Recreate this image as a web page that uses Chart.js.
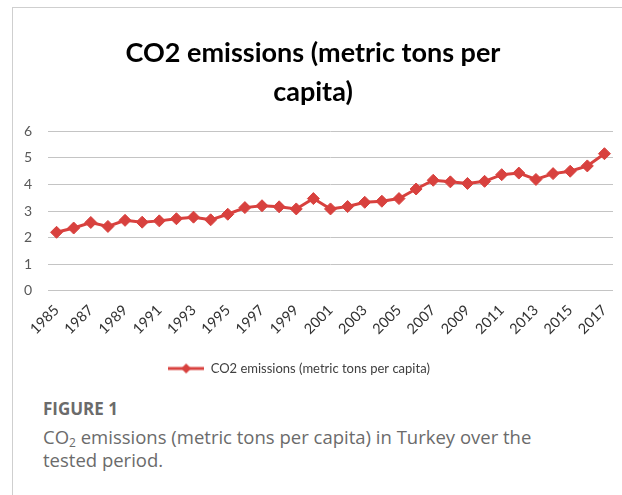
<!DOCTYPE html>
<html>
<head>
<meta charset="utf-8">
<script src="https://cdn.jsdelivr.net/npm/chart.js@4"></script>
<style>
  html, body { margin: 0; padding: 0; background: #fff; }
  body { width: 622px; height: 495px; position: relative; overflow: hidden; }
  #frame {
    position: absolute; left: 12px; top: 7px; right: -2px; bottom: -2px;
    border-left: 1px solid #cfcfcf; border-top: 1px solid #cfcfcf;
  }
  #chartBox { position: absolute; left: 13px; top: 8px; width: 609px; height: 382px; }
  #caption { position: absolute; left: 43px; top: 397px; font-family: "Open Sans", sans-serif; color: #6b6b6b; }
  #caption .fig { font-weight: 700; font-size: 17px; line-height: 24px; }
  #caption .txt { font-size: 18.5px; line-height: 23px; margin-top: 4px; }
</style>
</head>
<body>
<div id="frame"></div>
<div id="chartBox"><canvas id="co2Chart"></canvas></div>
<div id="caption">
  <div class="fig">FIGURE 1</div>
  <div class="txt">CO<sub style="font-size:12px;vertical-align:-3px;line-height:0">2</sub> emissions (metric tons per capita) in Turkey over the<br>tested period.</div>
</div>
<script>
// data
const years = [
  '1985', '1986', '1987', '1988', '1989', '1990', '1991', '1992', '1993', '1994', '1995',
  '1996', '1997', '1998', '1999', '2000', '2001', '2002', '2003', '2004', '2005', '2006',
  '2007', '2008', '2009', '2010', '2011', '2012', '2013', '2014', '2015', '2016', '2017'
];
const co2PerCapita = [
  2.20, 2.36, 2.57, 2.42, 2.65, 2.58, 2.63, 2.71, 2.77, 2.67, 2.88,
  3.13, 3.20, 3.16, 3.08, 3.47, 3.08, 3.17, 3.33, 3.37, 3.47, 3.83,
  4.16, 4.10, 4.04, 4.12, 4.37, 4.43, 4.19, 4.41, 4.50, 4.70, 5.16
];
const yTicks = [0, 1, 2, 3, 4, 5, 6];
const seriesName = 'CO2 emissions (metric tons per capita)';
const chartTitle = ['CO2 emissions (metric tons per', 'capita)'];

const red = '#D8413E';

// legend icon: line with a diamond in the middle
function legendIcon()
{
    const c = document.createElement('canvas');
    c.width = 36;
    c.height = 14;
    const g = c.getContext('2d');
    g.strokeStyle = red;
    g.lineWidth = 3;
    g.beginPath();
    g.moveTo(0, 7);
    g.lineTo(36, 7);
    g.stroke();
    g.fillStyle = red;
    g.beginPath();
    g.moveTo(18, 2);
    g.lineTo(23, 7);
    g.lineTo(18, 12);
    g.lineTo(13, 7);
    g.closePath();
    g.fill();
    return c;
}

// the legend in the original sits a little left of centre
const legendNudge = {
    id: 'legendNudge',
    afterLayout(chart) {
        if (chart.legend) {
            chart.legend.left -= 14;
            chart.legend.right -= 14;
        }
    }
};

new Chart(document.getElementById('co2Chart'), {
    type: 'line',
    data: {
        labels: years,
        datasets: [{
            label: seriesName,
            data: co2PerCapita,
            borderColor: red,
            backgroundColor: red,
            borderWidth: 3,
            tension: 0,
            pointStyle: 'rectRot',
            pointRadius: 6,
            pointBorderWidth: 1,
            pointBackgroundColor: red,
            pointBorderColor: red
        }]
    },
    options: {
        responsive: true,
        maintainAspectRatio: false,
        animation: false,
        layout: { padding: { left: 0, right: 9, top: 0, bottom: 5 } },
        scales: {
            x: {
                offset: true,
                grid: { display: false },
                border: { display: false },
                ticks: {
                    autoSkip: false,
                    minRotation: 45,
                    maxRotation: 45,
                    padding: 3,
                    color: '#333',
                    font: { family: 'Lato', size: 14.5 },
                    callback: function (value, index) {
                        return index % 2 === 0 ? years[index] : '';
                    }
                },
                afterFit: function (scale) { scale.height = 61.3; }
            },
            y: {
                min: yTicks[0],
                max: yTicks[yTicks.length - 1],
                grid: { color: '#c4c4c4', lineWidth: 1, drawTicks: false },
                border: { display: false },
                afterBuildTicks: function (scale) {
                    scale.ticks = yTicks.map(v => ({ value: v }));
                },
                ticks: {
                    padding: 16,
                    color: '#595959',
                    font: { family: 'Lato', size: 14 }
                },
                afterFit: function (scale) { scale.width = 35; }
            }
        },
        plugins: {
            title: {
                display: true,
                text: chartTitle,
                color: '#000',
                font: { family: 'Lato', size: 27, weight: 'bold', lineHeight: 1.45 },
                padding: { top: 25.9, bottom: 19.2 }
            },
            legend: {
                position: 'bottom',
                labels: {
                    usePointStyle: true,
                    pointStyle: legendIcon(),
                    pointStyleWidth: 36,
                    color: '#404040',
                    font: { family: 'Lato', size: 13 }
                }
            },
            tooltip: { enabled: false }
        }
    },
    plugins: [legendNudge]
});
</script>
</body>
</html>
